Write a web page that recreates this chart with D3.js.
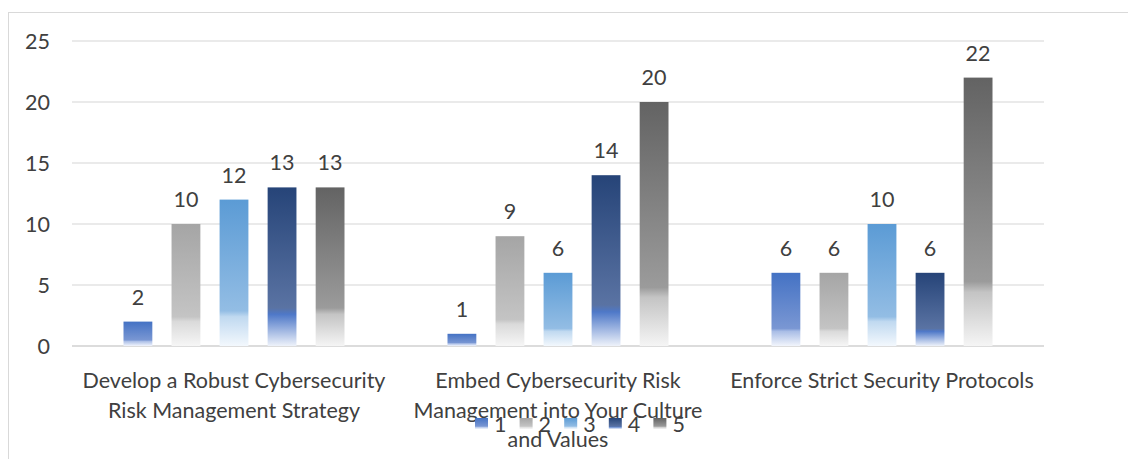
<!DOCTYPE html>
<html>
<head>
<meta charset="utf-8">
<script src="https://cdn.jsdelivr.net/npm/d3@7"></script>
<style>
  html, body { margin: 0; padding: 0; background: #ffffff; }
  svg { display: block; }
  text { font-family: Lato, "Open Sans", sans-serif; fill: #404040; }
</style>
</head>
<body>
<svg id="chart" width="1128" height="459"></svg>
<script>
// Chart data
const categories = [
  ["Develop a Robust Cybersecurity", "Risk Management Strategy"],
  ["Embed Cybersecurity Risk", "Management into Your Culture", "and Values"],
  ["Enforce Strict Security Protocols"]
];
const seriesNames = ["1", "2", "3", "4", "5"];
const series1 = [2, 1, 6];
const series2 = [10, 9, 6];
const series3 = [12, 6, 10];
const series4 = [13, 14, 6];
const series5 = [13, 20, 22];
const yTicks = [0, 5, 10, 15, 20, 25];

const seriesValues = [series1, series2, series3, series4, series5];

// Gradient stops per series: top colour, colour just before the fade, fade colour, bottom
const gradientStops = [
  ["#4472c4", "#7a97d3", "#a9bde6", "#f2f5fc"],
  ["#a5a5a5", "#c4c4c4", "#dadada", "#f6f6f6"],
  ["#5b9bd5", "#93bde4", "#c0d9f0", "#f3f8fd"],
  ["#264478", "#5a73a3", "#4e78c8", "#eef2fa"],
  ["#636363", "#9b9b9b", "#c4c4c4", "#f5f5f5"]
];

const FONT = 21.5;

const svg = d3.select("#chart");
const defs = svg.append("defs");
gradientStops.forEach((stops, i) => {
  const g = defs.append("linearGradient")
    .attr("id", "grad" + i)
    .attr("x1", 0).attr("y1", 0).attr("x2", 0).attr("y2", 1);
  g.append("stop").attr("offset", "0%").attr("stop-color", stops[0]);
  g.append("stop").attr("offset", "76%").attr("stop-color", stops[1]);
  g.append("stop").attr("offset", "80%").attr("stop-color", stops[2]);
  g.append("stop").attr("offset", "100%").attr("stop-color", stops[3]);
});

// Outer chart frame
svg.append("rect")
  .attr("x", 8.5).attr("y", 12.5)
  .attr("width", 1140).attr("height", 470)
  .attr("fill", "none").attr("stroke", "#d9d9d9").attr("stroke-width", 1);

const plot = { left: 72, right: 1044, top: 41, bottom: 346 };

const y = d3.scaleLinear().domain([0, 25]).range([plot.bottom, plot.top]);
const x0 = d3.scaleBand().domain(d3.range(categories.length))
  .range([plot.left, plot.right]).padding(0);
const inner = 51.5;
const x1 = d3.scaleBand().domain(d3.range(seriesNames.length))
  .range([inner, x0.bandwidth() - inner]).paddingInner(0.4).paddingOuter(0);

// Gridlines
const grid = svg.append("g");
grid.selectAll("line").data(yTicks).join("line")
  .attr("x1", plot.left).attr("x2", plot.right)
  .attr("y1", d => y(d)).attr("y2", d => y(d))
  .attr("stroke", d => d === 0 ? "#d0d0d0" : "#e3e3e3")
  .attr("stroke-width", 1.5);

// Y axis labels
const yAxis = d3.axisLeft(y).tickValues(yTicks).tickSize(0).tickPadding(0);
const yg = svg.append("g").attr("transform", `translate(${plot.left - 22},0)`).call(yAxis);
yg.select(".domain").remove();
yg.selectAll("text").attr("font-size", FONT).attr("dy", "0.35em").style("fill", "#404040")
  .style("font-family", "Lato, sans-serif");

// Bars
const groups = svg.append("g").selectAll("g").data(categories).join("g")
  .attr("transform", (d, i) => `translate(${x0(i)},0)`);

groups.each(function (cat, ci) {
  const g = d3.select(this);
  const vals = seriesValues.map((s, si) => ({ si, v: s[ci] }));
  g.selectAll("rect").data(vals).join("rect")
    .attr("x", d => x1(d.si))
    .attr("width", x1.bandwidth())
    .attr("y", d => y(d.v))
    .attr("height", d => y(0) - y(d.v))
    .attr("fill", d => `url(#grad${d.si})`);
  g.selectAll("text.val").data(vals).join("text")
    .attr("class", "val")
    .attr("x", d => x1(d.si) + x1.bandwidth() / 2)
    .attr("y", d => y(d.v) - 17)
    .attr("text-anchor", "middle")
    .attr("font-size", FONT)
    .text(d => d.v);
});

// Category labels
const catLabels = svg.append("g").selectAll("text").data(categories).join("text")
  .attr("x", (d, i) => x0(i) + x0.bandwidth() / 2)
  .attr("y", 388)
  .attr("text-anchor", "middle")
  .attr("font-size", FONT);
catLabels.each(function (lines) {
  const t = d3.select(this);
  lines.forEach((ln, k) => {
    t.append("tspan")
      .attr("x", t.attr("x"))
      .attr("dy", k === 0 ? 0 : 29.5)
      .text(ln);
  });
});

// Legend
const legend = svg.append("g").attr("transform", "translate(475,418)");
const item = legend.selectAll("g").data(seriesNames).join("g")
  .attr("transform", (d, i) => `translate(${i * 44.6},0)`);
item.append("rect").attr("width", 13).attr("height", 11)
  .attr("fill", (d, i) => `url(#grad${i})`);
item.append("text").attr("x", 19).attr("y", 14).attr("font-size", FONT).text(d => d);
</script>
</body>
</html>
